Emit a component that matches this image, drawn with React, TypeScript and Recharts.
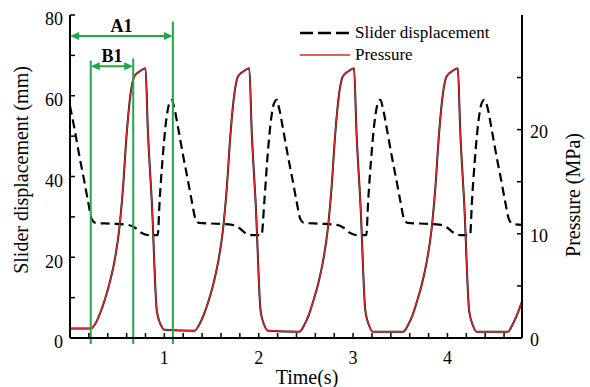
import React from "react";
import {
  LineChart,
  Line,
  XAxis,
  YAxis,
  ReferenceLine,
  Legend,
  Label,
} from "recharts";

const FONT = '"Liberation Serif", "Times New Roman", serif';
const GREEN = "#1fa84a";

// pressure, MPa (right axis)
const pressureTime = [
  0, 0.22, 0.27, 0.32, 0.37, 0.42, 0.47, 0.52, 0.56, 0.6, 0.64, 0.68, 0.74, 0.8, 0.825, 0.87, 0.92, 0.96, 1.0,
  1.32, 1.37, 1.42, 1.47, 1.52, 1.57, 1.62, 1.66, 1.7, 1.74, 1.78, 1.84, 1.9, 1.925, 1.97, 2.02, 2.06, 2.1,
  2.43, 2.48, 2.53, 2.58, 2.63, 2.68, 2.73, 2.77, 2.81, 2.85, 2.89, 2.95, 3.01, 3.035, 3.08, 3.13, 3.17, 3.21,
  3.53, 3.58, 3.63, 3.68, 3.73, 3.78, 3.83, 3.87, 3.91, 3.95, 3.99, 4.05, 4.11, 4.135, 4.18, 4.23, 4.27, 4.31,
  4.64, 4.69, 4.74, 4.79,
];
const pressureValues = [
  0.9, 0.9, 1.4, 2.4, 3.7, 5.3, 7.3, 10.3, 14.2, 19.5, 23.3, 25.1, 25.6, 25.9, 20, 12.5, 2.6, 1.3, 0.8,
  0.7, 1.3, 2.3, 3.6, 5.2, 7.3, 10.3, 14.2, 19.5, 23.3, 25.1, 25.6, 25.9, 20, 12.5, 2.6, 1.2, 0.7,
  0.6, 1.2, 2.2, 3.6, 5.2, 7.3, 10.3, 14.2, 19.5, 23.3, 25.1, 25.6, 25.9, 20, 12.5, 2.6, 1.2, 0.6,
  0.6, 1.2, 2.2, 3.6, 5.2, 7.3, 10.3, 14.2, 19.5, 23.3, 25.1, 25.6, 25.9, 20, 12.5, 2.6, 1.2, 0.6,
  0.6, 1.3, 2.3, 3.5,
];

// slider displacement, mm (left axis)
const displacementTime = [
  0, 0.05, 0.1, 0.15, 0.19, 0.23, 0.27, 0.45, 0.62, 0.69, 0.76, 0.83, 0.93, 0.95, 0.98, 1.02, 1.05, 1.08,
  1.1, 1.15, 1.2, 1.25, 1.29, 1.33, 1.37, 1.55, 1.72, 1.79, 1.86, 1.93, 2.03, 2.06, 2.09, 2.13, 2.16, 2.19,
  2.21, 2.26, 2.31, 2.36, 2.4, 2.44, 2.48, 2.66, 2.83, 2.9, 2.97, 3.04, 3.14, 3.16, 3.19, 3.23, 3.26, 3.29,
  3.31, 3.36, 3.41, 3.46, 3.5, 3.54, 3.58, 3.76, 3.93, 4.0, 4.07, 4.14, 4.24, 4.26, 4.29, 4.33, 4.36, 4.39,
  4.42, 4.47, 4.52, 4.57, 4.61, 4.65, 4.69, 4.79,
];
const displacementValues = [
  57.5, 51.5, 45, 39, 34, 29.5, 28.5, 28.3, 28, 27.3, 26, 25.5, 25.5, 34, 44, 54, 58, 59,
  57.5, 51.5, 45, 39, 34, 29.5, 28.5, 28.3, 28, 27.3, 26, 25.5, 25.5, 34, 44, 54, 58, 59,
  57.5, 51.5, 45, 39, 34, 29.5, 28.5, 28.3, 28, 27.3, 26, 25.5, 25.5, 34, 44, 54, 58, 59,
  57.5, 51.5, 45, 39, 34, 29.5, 28.5, 28.3, 28, 27.3, 26, 25.5, 25.5, 34, 44, 54, 58, 59,
  57.5, 51.5, 45, 39, 34, 29.5, 28.3, 28,
];

const timeTicks = [
  0.2, 0.4, 0.6, 0.8, 1, 1.2, 1.4, 1.6, 1.8, 2, 2.2, 2.4, 2.6, 2.8, 3, 3.2, 3.4, 3.6, 3.8, 4, 4.2, 4.4, 4.6,
];
const timeLabels = [1, 2, 3, 4];
const displacementTicks = [0, 10, 20, 30, 40, 50, 60, 70, 80];
const displacementLabels = [0, 20, 40, 60, 80];
const pressureTicks = [0, 5, 10, 15, 20, 25];
const pressureLabels = [0, 10, 20];

// A1 / B1 markers: time (s) and top of each vertical line (mm)
const markerTimes = [0.22, 0.67, 1.09];
const markerTops = [68.7, 69.2, 78.4];
const a1Level = 74.8;
const b1Level = 67.3;

const pressureData = pressureTime.map((t, i) => ({ t, p: pressureValues[i] }));
const displacementData = displacementTime.map((t, i) => ({ t, d: displacementValues[i] }));

const tickStyle = { fill: "#000", fontSize: 18, fontFamily: FONT, style: { fontFamily: FONT } };
const titleStyle = { fontFamily: FONT };

function arrowShape(props: any) {
  const { x1, y1, x2 } = props;
  const l = Math.min(x1, x2);
  const r = Math.max(x1, x2);
  const y = y1;
  return (
    <g>
      <line x1={l + 5} y1={y} x2={r - 5} y2={y} stroke={GREEN} strokeWidth={2} />
      <polygon points={`${l},${y} ${l + 9},${y - 4} ${l + 9},${y + 4}`} fill={GREEN} />
      <polygon points={`${r},${y} ${r - 9},${y - 4} ${r - 9},${y + 4}`} fill={GREEN} />
    </g>
  );
}

function LegendBox() {
  const row = { display: "flex", alignItems: "center", height: 22 };
  return (
    <div style={{ fontFamily: FONT, fontSize: 17, color: "#000", lineHeight: "22px" }}>
      <div style={row}>
        <svg width={58} height={10}>
          <line x1={3} y1={5} x2={53} y2={5} stroke="#000" strokeWidth={2.5} strokeDasharray="13 5" />
        </svg>
        <span>Slider displacement</span>
      </div>
      <div style={row}>
        <svg width={58} height={10}>
          <line x1={3} y1={5} x2={53} y2={5} stroke="#d42a2a" strokeWidth={1.5} />
        </svg>
        <span>Pressure</span>
      </div>
    </div>
  );
}

export default function App() {
  return (
    <div style={{ position: "absolute", left: 0, top: 0, background: "#fff" }}>
      <LineChart width={590} height={387} margin={{ top: 15, right: 0, bottom: 0, left: 0 }}>
        <XAxis
          dataKey="t"
          type="number"
          domain={[0, 4.79]}
          ticks={timeTicks}
          allowDataOverflow
          tickFormatter={(v: number) => (timeLabels.includes(v) ? String(v) : "")}
          tickSize={-5}
          tickMargin={18}
          height={49}
          tick={tickStyle}
          axisLine={{ stroke: "#000", strokeWidth: 2 }}
          tickLine={{ stroke: "#000", strokeWidth: 1.5 }}
        >
          <Label
            content={() => (
              <text x={307} y={384} textAnchor="middle" fontFamily={FONT} style={titleStyle} fontSize={20} fill="#000">
                Time(s)
              </text>
            )}
          />
        </XAxis>
        <XAxis
          xAxisId="top"
          orientation="top"
          type="number"
          domain={[0, 1]}
          height={0}
          tick={false}
          tickLine={false}
          axisLine={{ stroke: "#000", strokeWidth: 2 }}
        />
        <YAxis
          yAxisId="left"
          domain={[0, 80]}
          ticks={displacementTicks}
          tickFormatter={(v: number) => (displacementLabels.includes(v) ? String(v) : "")}
          tickSize={-5}
          tickMargin={12}
          width={70}
          tick={{ ...tickStyle, dy: 4 }}
          axisLine={{ stroke: "#000", strokeWidth: 2 }}
          tickLine={{ stroke: "#000", strokeWidth: 1.5 }}
        >
          <Label
            content={() => (
              <text
                x={21}
                y={170}
                transform="rotate(-90 21 170)"
                textAnchor="middle"
                dominantBaseline="central"
                fontFamily={FONT}
                style={titleStyle}
                fontSize={20}
                fill="#000"
              >
                Slider displacement (mm)
              </text>
            )}
          />
        </YAxis>
        <YAxis
          yAxisId="right"
          orientation="right"
          domain={[0, 31]}
          ticks={pressureTicks}
          tickFormatter={(v: number) => (pressureLabels.includes(v) ? String(v) : "")}
          tickSize={-5}
          tickMargin={13}
          width={68}
          tick={{ ...tickStyle, dy: 2 }}
          axisLine={{ stroke: "#000", strokeWidth: 2 }}
          tickLine={{ stroke: "#000", strokeWidth: 1.5 }}
        >
          <Label
            content={() => (
              <text
                x={573}
                y={195}
                transform="rotate(-90 573 195)"
                textAnchor="middle"
                dominantBaseline="central"
                fontFamily={FONT}
                style={titleStyle}
                fontSize={20}
                fill="#000"
              >
                Pressure (MPa)
              </text>
            )}
          />
        </YAxis>
        <Legend
          layout="horizontal"
          verticalAlign="middle"
          align="center"
          wrapperStyle={{ position: "absolute", left: 297, top: 22, width: 220 }}
          content={() => <LegendBox />}
        />
        <Line
          yAxisId="left"
          data={displacementData}
          dataKey="d"
          type="monotone"
          stroke="#000"
          strokeWidth={2.2}
          strokeDasharray="9 5"
          dot={false}
          isAnimationActive={false}
        />
        <Line
          yAxisId="right"
          data={pressureData}
          dataKey="p"
          type="monotone"
          stroke="#111"
          strokeWidth={2}
          dot={false}
          isAnimationActive={false}
          legendType="none"
        />
        <Line
          yAxisId="right"
          data={pressureData}
          dataKey="p"
          type="monotone"
          stroke="#e0262b"
          strokeWidth={1.3}
          dot={false}
          isAnimationActive={false}
        />
        {markerTimes.map((t, i) => (
          <ReferenceLine
            key={t}
            yAxisId="left"
            ifOverflow="visible"
            segment={[
              { x: t, y: -1.5 },
              { x: t, y: markerTops[i] },
            ]}
            stroke={GREEN}
            strokeWidth={2}
          />
        ))}
        <ReferenceLine
          yAxisId="left"
          ifOverflow="visible"
          segment={[
            { x: 0, y: a1Level },
            { x: markerTimes[2], y: a1Level },
          ]}
          shape={arrowShape}
          label={{ value: "A1", position: "top", offset: 4, fill: "#000", fontSize: 18, fontFamily: FONT, fontWeight: 600 }}
        />
        <ReferenceLine
          yAxisId="left"
          ifOverflow="visible"
          segment={[
            { x: markerTimes[0], y: b1Level },
            { x: markerTimes[1], y: b1Level },
          ]}
          shape={arrowShape}
          label={{ value: "B1", position: "top", offset: 4, fill: "#000", fontSize: 18, fontFamily: FONT, fontWeight: 600 }}
        />
      </LineChart>
    </div>
  );
}
